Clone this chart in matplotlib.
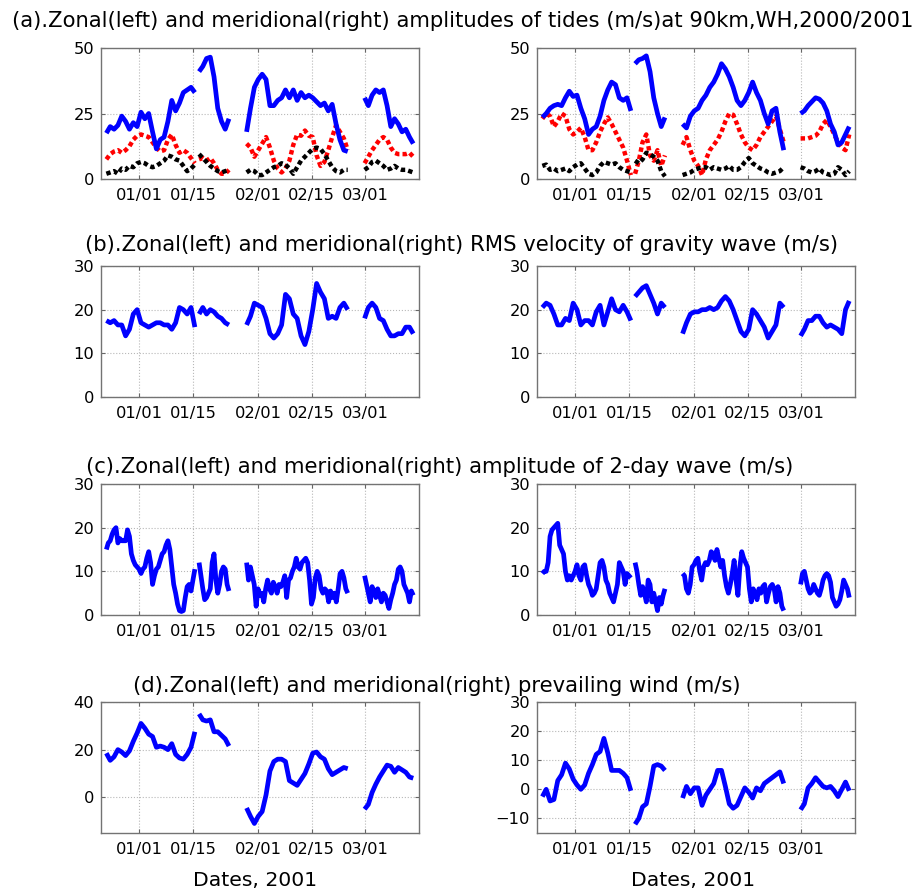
import numpy as np
import matplotlib
matplotlib.use('Agg')
import matplotlib.pyplot as plt
import matplotlib.dates as mdates

plt.rcParams['font.family'] = ['DejaVu Sans']

# days counted from 2000-12-22; the radar had four data runs in the window
START = mdates.date2num(np.datetime64('2000-12-22'))
SEGMENTS = [(1.4, 24.5), (25.6, 33.4), (38.0, 64.4), (68.8, 81.5)]
TICK_DATES = ['2001-01-01', '2001-01-15', '2001-02-01', '2001-02-15', '2001-03-01']

# (a) tidal amplitudes, 24h / 12h / 8h, zonal and meridional
diurnal_u = [
    [17.5, 20, 19, 20.5, 24, 22, 19, 21.5, 20, 25.5, 23, 25, 18, 11.5, 15, 16, 22, 30, 26, 29, 33, 34, 35, 33],
    [41, 43, 46, 46.5, 39, 27, 22, 19, 23],
    [18, 27, 35, 38, 40, 38, 28, 28, 30, 31, 34, 31, 34, 30, 33, 31, 32, 31, 29.5, 28, 29, 26, 28.5, 21, 15, 11, 10.5],
    [31, 28, 32, 34, 33, 34, 28, 20, 23, 21, 18, 19, 16, 13.5],
]
semidiurnal_u = [
    [7.5, 9.5, 10.5, 11, 10, 11, 12.5, 15, 16.5, 17, 16.5, 16, 14, 12, 10.5, 11, 15, 17, 13, 10, 11, 10, 8, 6],
    [7.5, 8, 7, 8, 6, 3.5, 2, 2, 3.5],
    [13.5, 12, 8.5, 11, 13.5, 16, 12, 7, 4, 2.5, 4, 7, 13, 17, 16.5, 18.5, 16.5, 16, 9, 5, 6.5, 11, 16, 20.5, 18, 15.5, 11],
    [6, 8.5, 11, 13, 15, 16, 15, 12, 10, 9.5, 9.5, 9.5, 10, 8.5],
]
terdiurnal_u = [
    [2, 2.5, 3, 2, 4, 3.5, 5, 4.5, 6, 6.5, 6, 5, 4.5, 5, 6, 7, 9, 8.5, 7.5, 7, 5, 3, 4, 5.5],
    [9.5, 8, 6.5, 5, 4, 3, 2.5, 3, 3.5],
    [2.5, 3.5, 3, 1.5, 1.5, 2.5, 3.5, 4.5, 5, 6, 5.5, 4, 2, 4.5, 7, 8.5, 10, 11.5, 12, 11.5, 9.5, 7, 4.5, 3, 2.5, 3.5, 3.5],
    [3.5, 4.5, 6.5, 7, 6, 5, 3.5, 4, 5, 4, 3.5, 3.5, 3, 2.5],
]
diurnal_v = [
    [23.5, 25, 27, 28, 28.5, 28, 31, 33.5, 31.5, 32, 27, 23, 17, 19, 20, 24, 30, 34, 37, 36, 31, 30, 31, 26],
    [44, 45.5, 46, 47, 41, 31, 25, 20, 23.5],
    [21, 19.5, 24, 26, 27, 30, 32, 35, 37, 40, 44, 42, 39, 35, 30, 28, 30, 33, 37, 33, 30, 25, 21, 26, 27, 18, 11],
    [25, 26, 28, 29.5, 31, 30.5, 29, 26, 21, 18, 13, 14, 17, 20],
]
semidiurnal_v = [
    [23, 25, 24, 20, 22, 25, 24, 19, 17, 18, 19.5, 16, 11, 11, 14, 18, 21, 23.5, 21, 18, 15, 12, 7, 1.5],
    [2, 7, 14, 17, 9, 7, 11, 5, 9],
    [13, 16, 11, 7, 5, 1.5, 7.5, 11, 13, 15, 18, 22, 25, 24.5, 21, 17, 14, 12, 11, 13, 16, 18, 20, 22, 24, 19, 14],
    [15.5, 15.5, 15.5, 16, 16.5, 18, 21, 22.5, 20, 17, 14, 12, 11, 17],
]
terdiurnal_v = [
    [5, 5.5, 3.5, 4, 3, 3.5, 4, 3, 4.5, 5.5, 6, 4, 2, 1.5, 2.5, 5, 6.5, 6, 5.5, 6, 4.5, 3.5, 3, 2.5],
    [7, 6, 7.5, 10, 9.5, 8.5, 7, 3, 1],
    [1.5, 2, 2.5, 3.5, 4, 4.5, 4.5, 3.5, 4.5, 4, 3.5, 4, 5, 3.5, 3.5, 4.5, 6.5, 8, 6, 5, 4, 3.5, 2.5, 2, 2.5, 3, 4.5],
    [4.5, 4, 3, 2.5, 3, 4, 2.5, 2, 1.5, 2, 4.5, 3.5, 1.5, 3],
]

# (b) gravity wave RMS velocity
gw_rms_u = [
    [17.5, 17, 17.5, 16.5, 16.5, 14, 15.5, 19, 20, 17, 16.5, 16, 16.5, 17, 17, 16.5, 16.5, 15.5, 17, 20.5, 20, 19, 20.5, 16],
    [19, 20.5, 19, 20, 19.5, 18.5, 18, 17, 16.5],
    [16.5, 18.5, 21.5, 21, 20.5, 18, 14.5, 13.5, 14.5, 16.5, 23.5, 22.5, 19, 18, 14, 12, 15, 20, 26, 24, 22.5, 18, 18.5, 18, 20.5, 21.5, 20],
    [18, 20.5, 21.5, 20.5, 18, 17.5, 15.5, 14, 14, 14.5, 14.5, 16, 16, 14.5],
]
gw_rms_v = [
    [20.5, 21.5, 21, 19, 16.5, 16.5, 18, 17.5, 21.5, 20, 16.5, 17.5, 17.5, 16.5, 19.5, 21, 16.5, 19.5, 22.5, 20, 19.5, 21, 19.5, 17.5],
    [23, 24, 25, 25.5, 23.5, 21.5, 19, 21.5, 20.5],
    [14.5, 17, 19, 19.5, 19.5, 20, 20, 20.5, 20, 20.5, 22, 23, 22, 20, 17.5, 15, 14, 15.5, 20, 19, 17.5, 16, 13.5, 15, 16.5, 21.5, 20.5],
    [14, 15.5, 17.5, 17.5, 18.5, 18.5, 17, 16, 16.5, 16, 15.5, 14.5, 20, 22],
]

# (c) 2-day wave amplitude
qtdw_u = [
    [15, 16.5, 17, 18.5, 19.5, 20, 16.5, 17.5, 17, 17, 17, 19.5, 18, 14, 12.5, 11.5, 11, 10.5, 9.5, 10.5,
     11, 13, 14.5, 12, 7, 9, 10.5, 11, 12.5, 14, 14.5, 16, 17, 15, 11, 7, 5, 2.5, 1, 0.8, 1, 4, 6.5, 7,
     5.5, 8, 10.5],
    [12, 9, 6, 3.5, 4, 5, 6, 12, 14, 8, 5, 7, 10, 11, 10.5, 7, 5.5],
    [12, 8, 11, 9, 7, 2, 6, 4.5, 5, 3, 6, 8, 6, 5, 7.5, 6.5, 5, 7, 6.5, 7.5, 9, 4, 8, 8.5, 10, 11, 13,
     11, 10.5, 12, 12.5, 13, 12, 8, 2.5, 4, 8.5, 10, 9, 6, 5, 6, 5.5, 3, 5.5, 4, 5, 3, 6, 9.5, 10, 8.5,
     6, 5],
    [9, 7, 5, 3, 6.5, 5.5, 4, 6, 4.5, 3, 5, 4.5, 3, 1.5, 3.5, 5, 7, 8, 10.5, 11, 10, 7, 6, 5, 3, 5.5, 4.5],
]
qtdw_v = [
    [9.5, 10, 10, 12, 18, 19.5, 20, 20.5, 21, 16, 15, 14, 10, 8, 9, 8, 9, 10, 11.5, 9, 8, 11, 11.5, 9,
     7, 6, 4.5, 5, 6, 9, 12, 12.5, 11, 8, 7, 5, 4, 3, 5, 7, 12, 11, 10, 7, 9.5, 9, 8.5],
    [12, 10, 7, 4.5, 6.5, 5, 3, 8, 7, 3, 5, 3, 1, 4, 2.5, 4.5, 6],
    [9.5, 9, 6, 5, 7, 11, 11.5, 12.5, 13, 10, 8, 11, 12, 11.5, 12.5, 14.5, 14, 12.5, 15, 13, 11, 12.5,
     9, 6.5, 5, 7, 9.5, 12.5, 8, 4.5, 11, 14.5, 13, 12, 11, 6, 3, 6, 5, 3.5, 6, 5, 6.5, 7, 3, 5, 6.5,
     7, 6, 3, 6.5, 5, 2, 1],
    [7, 9.5, 10, 8, 6, 5, 5.5, 7, 6, 5, 4.5, 6, 8, 9, 9.5, 9, 7.5, 4, 3, 2, 2.5, 3.5, 5.5, 8, 7, 6, 4],
]

# (d) prevailing wind
wind_u = [
    [18.5, 15.5, 17, 20, 19, 17.5, 19.5, 23.5, 27, 31, 29, 26.5, 25.5, 21, 21.5, 21, 20, 22.5, 18, 16.5, 16, 18, 21, 27.5],
    [35, 32.5, 32, 32.5, 27.5, 27.5, 26, 24.5, 21.5],
    [-4.5, -8, -11, -8, -6, 1, 11, 15, 16, 16, 15, 7, 6, 5, 7.5, 10, 14, 18.5, 19, 17, 16, 12, 9.5, 10.5, 11.5, 12.5, 12],
    [-5, -3, 2, 5.5, 8.5, 11, 13.5, 13, 10.5, 12.5, 11.5, 10.5, 8.5, 8],
]
wind_v = [
    [-2.5, 0, -4, -3.5, 3, 5, 9, 7, 3.5, 1.5, 0, 1.5, 5.5, 8.5, 12, 13, 17.5, 12.5, 6.5, 6.5, 6.5, 5.5, 4, -0.5],
    [-12, -10, -6, -5, 1, 8, 8.5, 8, 6.5],
    [-3, 1, -1.5, 0.5, 0.5, -5.5, -2, 0, 2, 6.5, 6.5, 1, -5, -6.5, -5.5, -2.5, 0.5, -1, -3, 0.5, -0.5, 2, 3, 4, 5, 6, 2],
    [-7, -5, 0.5, 2, 4, 2.5, 1, 0.5, 1, -0.5, -2.5, 0, 2.5, -0.5],
]

TITLES = [
    '(a).Zonal(left) and meridional(right) amplitudes of tides (m/s)at 90km,WH,2000/2001',
    '(b).Zonal(left) and meridional(right) RMS velocity of gravity wave (m/s)',
    '(c).Zonal(left) and meridional(right) amplitude of 2-day wave (m/s)',
    '(d).Zonal(left) and meridional(right) prevailing wind (m/s)',
]


def draw(ax, series, **kw):
    for (d0, d1), vals in zip(SEGMENTS, series):
        t = START + np.linspace(d0, d1, len(vals))
        ax.plot(t, vals, **kw)


def style(ax, ylim, yticks):
    ax.set_xlim(START, START + 83)
    ax.set_ylim(*ylim)
    ax.set_yticks(yticks)
    ax.set_xticks([mdates.date2num(np.datetime64(d)) for d in TICK_DATES])
    ax.xaxis.set_major_formatter(mdates.DateFormatter('%m/%d'))
    ax.grid(True, linestyle=':', color='0.72', linewidth=0.8)
    ax.tick_params(direction='in', length=3, width=0.8, color='0.4',
                   top=True, right=True, labelsize=11.7)
    ax.tick_params(axis='x', pad=6.5)
    ax.tick_params(axis='y', pad=5)
    for sp in ax.spines.values():
        sp.set_color('0.45')
        sp.set_linewidth(1.0)


fig = plt.figure(figsize=(9.21, 8.91), dpi=100)
W, H = 921.0, 891.0
lefts = [101, 537]
tops = [48, 266, 484, 702]

blue = dict(color='blue', lw=3.4, solid_capstyle='butt')
dots = dict(lw=3.2, linestyle=(0, (1, 0.7)), dash_capstyle='butt')

panels = [
    ((diurnal_u, semidiurnal_u, terdiurnal_u), (diurnal_v, semidiurnal_v, terdiurnal_v), (0, 50), (0, 50), [0, 25, 50], [0, 25, 50]),
    ((gw_rms_u,), (gw_rms_v,), (0, 30), (0, 30), [0, 10, 20, 30], [0, 10, 20, 30]),
    ((qtdw_u,), (qtdw_v,), (0, 30), (0, 30), [0, 10, 20, 30], [0, 10, 20, 30]),
    ((wind_u,), (wind_v,), (-15, 40), (-15, 30), [0, 20, 40], [-10, 0, 10, 20, 30]),
]

for row, (left_data, right_data, ylim_l, ylim_r, yt_l, yt_r) in enumerate(panels):
    for col, (data, ylim, yt) in enumerate(((left_data, ylim_l, yt_l), (right_data, ylim_r, yt_r))):
        ax = fig.add_axes([lefts[col] / W, 1 - (tops[row] + 131) / H, 318 / W, 131 / H])
        if len(data) > 1:
            draw(ax, data[1], color='red', **dots)
            draw(ax, data[2], color='black', **dots)
        draw(ax, data[0], **blue)
        style(ax, ylim, yt)

title_pos = [(12, 27), (85, 251), (86, 473), (133, 692)]
for txt, (x, y) in zip(TITLES, title_pos):
    fig.text(x / W, 1 - y / H, txt, ha='left', va='baseline', fontsize=15.25)

for xc in (255, 693):
    fig.text(xc / W, 1 - 886 / H, 'Dates, 2001', ha='center', va='baseline', fontsize=14.7)

fig.savefig('out.png', dpi=100)
